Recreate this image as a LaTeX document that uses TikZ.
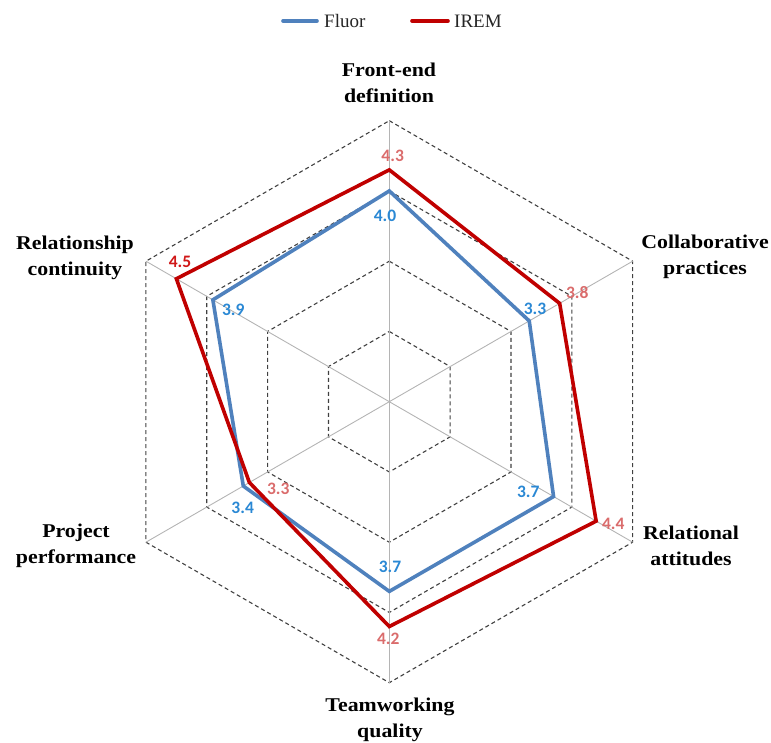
\documentclass[tikz,border=0pt]{standalone}
\usepackage{fontspec}
\setmainfont{Liberation Serif}
\newfontfamily\labfont[FakeStretch=1.12]{Liberation Serif}
\newfontfamily\numfont{Carlito}
\usetikzlibrary{calc}
\definecolor{fluor}{HTML}{4F81BD}
\definecolor{irem}{HTML}{C00000}
\definecolor{fluortxt}{HTML}{2A88D4}
\definecolor{iremtxt}{HTML}{DA6C6C}
\definecolor{iremdark}{HTML}{D01818}
\definecolor{axisgray}{HTML}{B4B4B4}
\tikzset{
  axislabel/.style={align=center,font=\labfont\bfseries\fontsize{19.5}{26}\selectfont,text=black,inner sep=0pt},
  valfluor/.style={font=\numfont\bfseries\fontsize{17.5}{19}\selectfont,text=fluortxt,inner sep=0pt},
  valirem/.style={font=\numfont\bfseries\fontsize{17.5}{19}\selectfont,text=iremtxt,inner sep=0pt},
  ringline/.style={draw=black!75,line width=1.1pt,dash pattern=on 4pt off 3pt},
  spoke/.style={draw=axisgray,line width=0.9pt},
  fluorline/.style={draw=fluor,line width=3.6pt,line join=miter},
  iremline/.style={draw=irem,line width=3.6pt,line join=miter},
  legtext/.style={font=\fontsize{19}{22}\selectfont,anchor=west,inner sep=0pt,text=black!85}
}
\begin{document}
\begin{tikzpicture}[x=1pt,y=-1pt]
\useasboundingbox (0,0) rectangle (771,742);
\coordinate (C) at (389.3,401.7);
% rings
\foreach \k in {1,2,3,4}{
  \draw[ringline] ($(C)+(90:\k*70.25pt)$) -- ($(C)+(30:\k*70.25pt)$) -- ($(C)+(-30:\k*70.25pt)$) -- ($(C)+(-90:\k*70.25pt)$) -- ($(C)+(-150:\k*70.25pt)$) -- ($(C)+(150:\k*70.25pt)$) -- cycle;
}
% spokes
\foreach \i/\a in {1/90,2/30,3/-30,4/-90,5/-150,6/150}{
  \coordinate (o\i) at ($(C)+(\a:281pt)$);
  \draw[spoke] (C) -- (o\i);
}
% data points
\foreach \i/\a/\f/\r in {1/90/4.0/4.3,2/30/3.3/3.8,3/-30/3.7/4.4,4/-90/3.7/4.2,5/-150/3.4/3.3,6/150/3.9/4.5}{
  \coordinate (f\i) at ($(C)+(\a:{(\f-1)*70.25pt})$);
  \coordinate (r\i) at ($(C)+(\a:{(\r-1)*70.25pt})$);
}
\draw[fluorline] (f1) -- (f2) -- (f3) -- (f4) -- (f5) -- (f6) -- cycle;
\draw[iremline] (r1) -- (r2) -- (r3) -- (r4) -- (r5) -- (r6) -- cycle;
% value labels
\node[valirem] (v1r) at (392.7,156) {4.3};
\node[valfluor] (v1f) at (385,215.7) {4.0};
\node[valirem] (v2r) at (577.3,292.7) {3.8};
\node[valfluor] (v2f) at (535,309.3) {3.3};
\node[valfluor] (v3f) at (528.3,491.7) {3.7};
\node[valirem] (v3r) at (613.3,524.3) {4.4};
\node[valfluor] (v4f) at (390,566.7) {3.7};
\node[valirem] (v4r) at (388.3,639.3) {4.2};
\node[valfluor] (v5f) at (242.7,508.3) {3.4};
\node[valirem] (v5r) at (278.3,489.3) {3.3};
\node[valirem,text=iremdark] (v6r) at (180,261.7) {4.5};
\node[valfluor] (v6f) at (233.3,310) {3.9};
% axis labels
\node[axislabel] (l1) at (389,83) {Front-end\\definition};
\node[axislabel] (l2) at (705,257) {Collaborative\\practices};
\node[axislabel] (l3) at (691,546) {Relational\\attitudes};
\node[axislabel] (l4) at (390,720) {Teamworking\\quality};
\node[axislabel] (l5) at (76,546) {Project\\performance};
\node[axislabel] (l6) at (75,258) {Relationship\\continuity};
% legend
\coordinate (lf1) at (283,21);
\coordinate (lf2) at (317,21);
\coordinate (lr1) at (412,21);
\coordinate (lr2) at (448,21);
\draw[draw=fluor,line width=3.6pt,line cap=round] (lf1) -- (lf2);
\draw[draw=irem,line width=3.6pt,line cap=round] (lr1) -- (lr2);
\node[legtext] (tf) at (324,21) {Fluor};
\node[legtext] (tr) at (454,21) {IREM};
\end{tikzpicture}
\end{document}
